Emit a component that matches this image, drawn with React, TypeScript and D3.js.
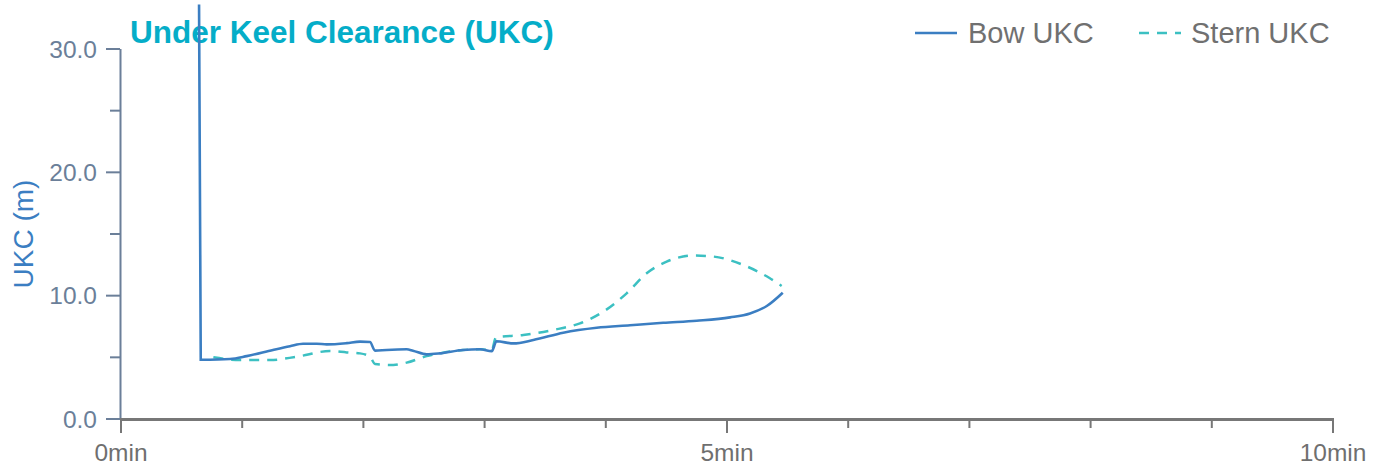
import React from "react";
import * as d3 from "d3";

const bowTime = [0.644, 0.658, 0.899, 1.037, 1.254, 1.394, 1.502, 1.615, 1.697, 1.862, 1.972, 2.054, 2.096, 2.192, 2.357, 2.409, 2.522, 2.632, 2.822, 2.962, 3.059, 3.098, 3.237, 3.402, 3.649, 3.925, 4.2, 4.474, 4.75, 5.025, 5.19, 5.328, 5.46];
const bowUKC = [33.6, 4.8, 4.87, 5.1, 5.6, 5.9, 6.1, 6.1, 6.05, 6.15, 6.27, 6.24, 5.54, 5.6, 5.65, 5.54, 5.24, 5.32, 5.6, 5.65, 5.5, 6.3, 6.13, 6.4, 7.0, 7.4, 7.6, 7.8, 7.97, 8.24, 8.56, 9.16, 10.24];

const sternTime = [0.762, 0.982, 1.229, 1.45, 1.724, 1.862, 1.972, 2.054, 2.096, 2.247, 2.357, 2.522, 2.632, 2.822, 2.962, 3.059, 3.094, 3.319, 3.567, 3.787, 3.979, 4.172, 4.337, 4.502, 4.722, 4.887, 5.134, 5.354, 5.451];
const sternUKC = [5.0, 4.78, 4.78, 5.05, 5.51, 5.4, 5.32, 5.05, 4.46, 4.38, 4.57, 5.1, 5.32, 5.6, 5.65, 5.6, 6.62, 6.81, 7.22, 7.76, 8.7, 10.19, 11.81, 12.76, 13.25, 13.17, 12.49, 11.41, 10.79];

const yMajorTicks = [0, 10, 20, 30];
const yMinorTicks = [5, 15, 25];
const xMajorTicks = [0, 5, 10];
const xMinorTicks = [1, 2, 3, 4, 6, 7, 8, 9];

const title = "Under Keel Clearance (UKC)";
const yTitle = "UKC (m)";
const seriesNames = ["Bow UKC", "Stern UKC"];

const W = 1384;
const H = 466;
const FONT = "Arial, 'Liberation Sans', Helvetica, sans-serif";
const BOW = "#3b7ec2";
const STERN = "#3cc0c2";

export default function App() {
  const x = d3.scaleLinear().domain([0, 10]).range([121, 1333]);
  const y = d3.scaleLinear().domain([0, 30]).range([419, 49]);

  const bowData = bowTime.map((t, i) => [t, bowUKC[i]] as [number, number]);
  const sternData = sternTime.map((t, i) => [t, sternUKC[i]] as [number, number]);

  const line = d3
    .line<[number, number]>()
    .x((d) => x(d[0]))
    .y((d) => y(d[1]))
    .curve(d3.curveMonotoneX);
  const lineLinear = d3
    .line<[number, number]>()
    .x((d) => x(d[0]))
    .y((d) => y(d[1]));

  const bowPath = lineLinear(bowData.slice(0, 2))! + line(bowData.slice(1))!.replace(/^M/, "L");

  return (
    <svg
      width={W}
      height={H}
      style={{ position: "absolute", left: 0, top: 0, background: "#fff" }}
      fontFamily={FONT}
    >
      {/* y axis */}
      <line x1={120.5} x2={120.5} y1={y(30)} y2={y(0)} stroke="#6b7f99" strokeWidth={2} />
      {yMajorTicks.map((t) => (
        <g key={"ym" + t}>
          <line x1={106} x2={120} y1={y(t)} y2={y(t)} stroke="#6b7f99" strokeWidth={2} />
          <text x={97} y={y(t)} dy="0.35em" textAnchor="end" fontSize={24.5} fill="#6b7f99">
            {t.toFixed(1)}
          </text>
        </g>
      ))}
      {yMinorTicks.map((t) => (
        <line key={"yn" + t} x1={110} x2={120} y1={y(t)} y2={y(t)} stroke="#6b7f99" strokeWidth={2} />
      ))}
      <text
        transform={`translate(33, ${(y(0) + y(30)) / 2}) rotate(-90)`}
        textAnchor="middle"
        fontSize={28}
        fill="#3b7ec2"
      >
        {yTitle}
      </text>

      {/* x axis */}
      <line x1={120} x2={1334} y1={419.5} y2={419.5} stroke="#777" strokeWidth={3} />
      {xMajorTicks.map((t) => (
        <g key={"xm" + t}>
          <line x1={x(t)} x2={x(t)} y1={419} y2={433} stroke="#777" strokeWidth={2} />
          <text x={x(t)} y={461} textAnchor="middle" fontSize={24.5} fill="#6f6f6f">
            {t}min
          </text>
        </g>
      ))}
      {xMinorTicks.map((t) => (
        <line key={"xn" + t} x1={x(t)} x2={x(t)} y1={419} y2={428} stroke="#777" strokeWidth={2} />
      ))}

      {/* title */}
      <text
        x={130}
        y={43}
        fontSize={31.5}
        fontWeight="bold"
        fill="#05adc8"
        stroke="#fff"
        strokeWidth={4}
        paintOrder="stroke"
      >
        {title}
      </text>

      {/* series */}
      <path d={line(sternData)!} fill="none" stroke={STERN} strokeWidth={2.5} strokeDasharray="10,8" />
      <path d={bowPath} fill="none" stroke={BOW} strokeWidth={2.6} />

      {/* legend */}
      <line x1={915} x2={957} y1={33} y2={33} stroke={BOW} strokeWidth={2.6} />
      <text x={968} y={33} dy="0.35em" fontSize={29} fill="#707070">
        {seriesNames[0]}
      </text>
      <line x1={1139} x2={1181} y1={33} y2={33} stroke={STERN} strokeWidth={2.6} strokeDasharray="10,8" />
      <text x={1191} y={33} dy="0.35em" fontSize={29} fill="#707070">
        {seriesNames[1]}
      </text>
    </svg>
  );
}
